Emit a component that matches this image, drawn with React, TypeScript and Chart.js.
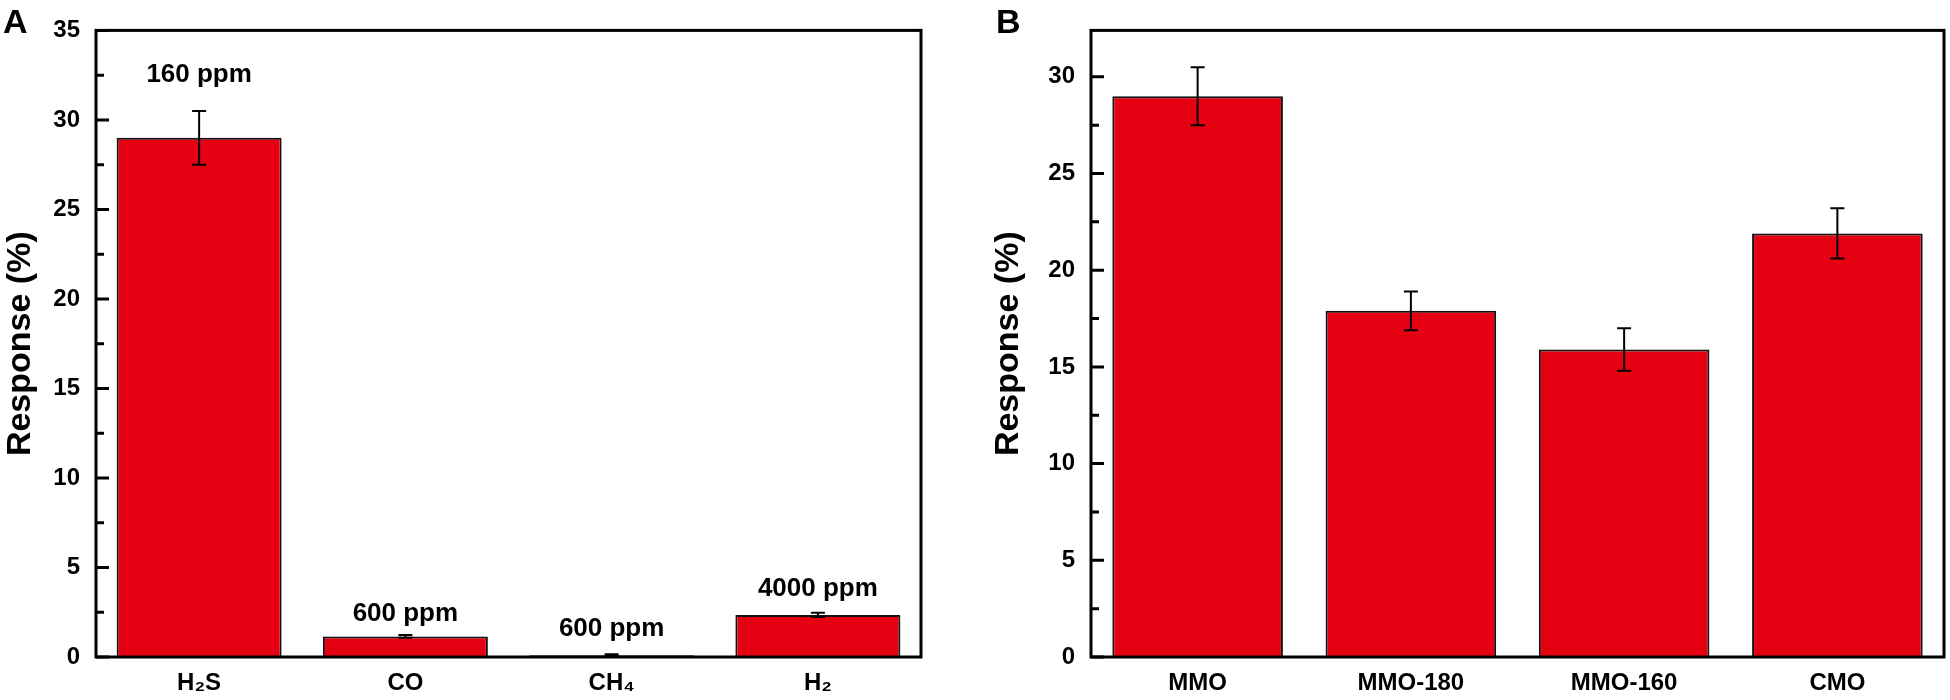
import { useEffect, useRef } from "react"
import { Chart, registerables } from "chart.js"

Chart.register(...registerables)

// Panel A: response to different gases
const gasNames = ["H₂S", "CO", "CH₄", "H₂"]
const gasResponse = [29, 1.15, 0.1, 2.35]
const gasError = [1.5, 0.08, 0.05, 0.12]
const gasDoses = ["160 ppm", "600 ppm", "600 ppm", "4000 ppm"]
const gasDoseLevel = [32.5, 2.4, 1.6, 3.8]
const gasTicks = [0, 5, 10, 15, 20, 25, 30, 35]

// Panel B: response of the different samples
const sampleNames = ["MMO", "MMO-180", "MMO-160", "CMO"]
const sampleResponse = [29, 17.9, 15.9, 21.9]
const sampleError = [1.5, 1.0, 1.1, 1.3]
const sampleTicks = [0, 5, 10, 15, 20, 25, 30]

const FONT = "'Liberation Sans', Arial, Helvetica, sans-serif"

// error bars, dose labels, inward ticks and the box frame
const decorations = {
  id: "decorations",
  afterDatasetsDraw(chart: any, _args: any, opts: any) {
    const { ctx, chartArea: a, scales } = chart
    const x = scales.x
    const y = scales.y
    const values = chart.data.datasets[0].data as number[]
    ctx.save()
    ctx.strokeStyle = "#000"
    ctx.fillStyle = "#000"

    ctx.lineWidth = 2
    ;(opts.errors as number[]).forEach((e, i) => {
      const cx = x.getPixelForValue(i)
      const top = y.getPixelForValue(values[i] + e)
      const bot = y.getPixelForValue(Math.max(0, values[i] - e))
      ctx.beginPath()
      ctx.moveTo(cx, top)
      ctx.lineTo(cx, bot)
      ctx.moveTo(cx - 7, top)
      ctx.lineTo(cx + 7, top)
      ctx.moveTo(cx - 7, bot)
      ctx.lineTo(cx + 7, bot)
      ctx.stroke()
    })

    if (opts.labels) {
      ctx.font = `bold 26px ${FONT}`
      ctx.textAlign = "center"
      ctx.textBaseline = "middle"
      ;(opts.labels as string[]).forEach((text, i) => {
        ctx.fillText(text, x.getPixelForValue(i), y.getPixelForValue(opts.levels[i]))
      })
    }

    // inward major + minor ticks on the left axis
    const ticks = opts.ticks as number[]
    ctx.lineWidth = 3
    ctx.beginPath()
    ticks.forEach((t, i) => {
      const py = y.getPixelForValue(t)
      ctx.moveTo(a.left, py)
      ctx.lineTo(a.left + 13, py)
      const next = i + 1 < ticks.length ? ticks[i + 1] : t + (t - ticks[i - 1])
      const mid = (t + next) / 2
      if (mid <= y.max) {
        const pm = y.getPixelForValue(mid)
        ctx.moveTo(a.left, pm)
        ctx.lineTo(a.left + 8, pm)
      }
    })
    ctx.stroke()

    ctx.lineWidth = 3
    ctx.strokeRect(a.left, a.top, a.right - a.left, a.bottom - a.top)
    ctx.restore()
  },
}

interface PanelProps {
  names: string[]
  values: number[]
  errors: number[]
  ticks: number[]
  max: number
  labels?: string[]
  levels?: number[]
  yWidth: number
  titlePad: number
  rightPad: number
}

function Panel({ names, values, errors, ticks, max, labels, levels, yWidth, titlePad, rightPad }: PanelProps) {
  const chartRef = useRef<HTMLCanvasElement>(null)
  const chartInstance = useRef<Chart | null>(null)

  useEffect(() => {
    if (!chartRef.current) return
    if (chartInstance.current) chartInstance.current.destroy()
    const ctx = chartRef.current.getContext("2d")
    if (!ctx) return

    chartInstance.current = new Chart(ctx, {
      type: "bar",
      data: {
        labels: names,
        datasets: [
          {
            data: values,
            backgroundColor: "#e50012",
            borderColor: "#111",
            borderWidth: 2,
            barPercentage: 0.8,
            categoryPercentage: 1,
          },
        ],
      },
      plugins: [decorations],
      options: {
        animation: false,
        responsive: true,
        maintainAspectRatio: false,
        layout: { padding: { top: 15, right: rightPad, left: 0, bottom: 0 } },
        plugins: {
          legend: { display: false },
          tooltip: { enabled: false },
          // @ts-ignore
          decorations: { errors, labels, levels, ticks },
        },
        scales: {
          x: {
            grid: { display: false, drawTicks: false },
            border: { display: false },
            ticks: {
              color: "#000",
              font: { family: FONT, size: 24, weight: "bold" },
              padding: 12,
              maxRotation: 0,
            },
            afterFit: (s: any) => {
              s.height = 43
            },
          },
          y: {
            min: 0,
            max,
            grid: { display: false, drawTicks: false },
            border: { display: false },
            afterBuildTicks: (s: any) => {
              s.ticks = ticks.map((v) => ({ value: v }))
            },
            ticks: {
              color: "#000",
              font: { family: FONT, size: 24, weight: "bold" },
              padding: 16,
            },
            title: {
              display: true,
              text: "Response (%)",
              color: "#000",
              font: { family: FONT, size: 34, weight: "bold" },
              padding: { top: titlePad, bottom: 0 },
            },
            afterFit: (s: any) => {
              s.width = yWidth
            },
          },
        },
      },
    })

    return () => {
      if (chartInstance.current) {
        chartInstance.current.destroy()
        chartInstance.current = null
      }
    }
  }, [])

  return <canvas ref={chartRef} />
}

const letterStyle: React.CSSProperties = {
  position: "absolute",
  top: 4,
  font: `bold 34px ${FONT}`,
  lineHeight: "34px",
  color: "#000",
}

export default function App() {
  return (
    <div style={{ position: "absolute", left: 0, top: 0, width: 1950, height: 700, background: "#fff" }}>
      <div style={{ position: "absolute", left: 0, top: 0, width: 975, height: 700 }}>
        <Panel
          names={gasNames}
          values={gasResponse}
          errors={gasError}
          ticks={gasTicks}
          max={35}
          labels={gasDoses}
          levels={gasDoseLevel}
          yWidth={96}
          titlePad={0}
          rightPad={54}
        />
      </div>
      <div style={{ position: "absolute", left: 975, top: 0, width: 975, height: 700 }}>
        <Panel
          names={sampleNames}
          values={sampleResponse}
          errors={sampleError}
          ticks={sampleTicks}
          max={32.4}
          yWidth={116}
          titlePad={13}
          rightPad={6}
        />
      </div>
      <div style={{ ...letterStyle, left: 3 }}>A</div>
      <div style={{ ...letterStyle, left: 996 }}>B</div>
    </div>
  )
}
